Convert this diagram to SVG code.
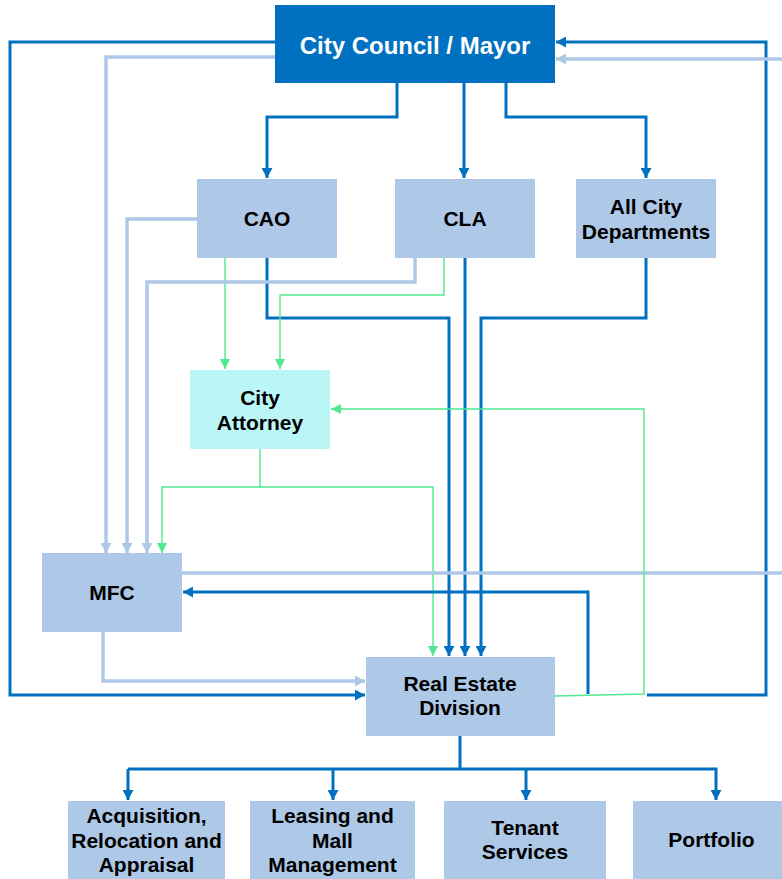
<svg xmlns="http://www.w3.org/2000/svg" width="782" height="879" viewBox="0 0 782 879">
  <style>
    .box { fill: #AEC8E7; }
    .top { fill: #0070C0; }
    .atty { fill: #BBF6F6; }
    .lbl { font-family: "Liberation Sans", Arial, sans-serif; font-weight: bold; font-size: 21px; fill: #000; text-anchor: middle; }
    .big { font-size: 24px; fill: #fff; }
    .dark { fill: none; stroke: #0070C0; stroke-width: 3; }
    .light { fill: none; stroke: #AEC8E7; stroke-width: 3.5; }
    .green { fill: none; stroke: #50E890; stroke-width: 1.4; }
  </style>
  <defs>
    <marker id="aDark" markerUnits="userSpaceOnUse" markerWidth="11" markerHeight="11" refX="10" refY="5.5" orient="auto">
      <path d="M0,0 L10,5.5 L0,11 z" fill="#0070C0"/>
    </marker>
    <marker id="aLight" markerUnits="userSpaceOnUse" markerWidth="11" markerHeight="11" refX="10" refY="5.5" orient="auto">
      <path d="M0,0 L10,5.5 L0,11 z" fill="#AEC8E7"/>
    </marker>
    <marker id="aGreen" markerUnits="userSpaceOnUse" markerWidth="11" markerHeight="11" refX="10" refY="5" orient="auto">
      <path d="M0,0 L10,5 L0,10 z" fill="#50E890"/>
    </marker>
  </defs>

  <g id="connectors">
    <!-- City Council / Mayor outgoing -->
    <path class="dark" d="M275,42 H10 V695 H365" marker-end="url(#aDark)"/>
    <path class="light" d="M275,57 H106 V553" marker-end="url(#aLight)"/>
    <path class="dark" d="M397,83 V117 H267 V178" marker-end="url(#aDark)"/>
    <path class="dark" d="M464,83 V178" marker-end="url(#aDark)"/>
    <path class="dark" d="M506,83 V117 H646 V178" marker-end="url(#aDark)"/>
    <!-- returns to City Council / Mayor -->
    <path class="dark" d="M647,695 H766 V42 H556" marker-end="url(#aDark)"/>
    <path class="light" d="M782,59 H556" marker-end="url(#aLight)"/>
    <!-- CAO -->
    <path class="light" d="M197,219 H127 V553" marker-end="url(#aLight)"/>
    <path class="green" d="M225,258 V369" marker-end="url(#aGreen)"/>
    <path class="dark" d="M267,258 V318 H449 V656" marker-end="url(#aDark)"/>
    <!-- CLA -->
    <path class="light" d="M415,258 V282 H147 V553" marker-end="url(#aLight)"/>
    <path class="green" d="M444,258 V295 H280 V369" marker-end="url(#aGreen)"/>
    <path class="dark" d="M465,258 V656" marker-end="url(#aDark)"/>
    <!-- All City Departments -->
    <path class="dark" d="M646,258 V318 H481 V656" marker-end="url(#aDark)"/>
    <!-- City Attorney -->
    <path class="green" d="M260,449 V487 H162 V553" marker-end="url(#aGreen)"/>
    <path class="green" d="M260,487 H433 V656" marker-end="url(#aGreen)"/>
    <!-- MFC -->
    <path class="light" d="M182,573 H782"/>
    <path class="light" d="M103,632 V681 H365" marker-end="url(#aLight)"/>
    <!-- Real Estate Division -->
    <path class="green" d="M555,696 L644,694 V409 H331" marker-end="url(#aGreen)"/>
    <path class="dark" d="M588,694 V592 H183" marker-end="url(#aDark)"/>
    <path class="dark" d="M460,736 V769"/>
    <path class="dark" d="M128,769 H716 V800" marker-end="url(#aDark)"/>
    <path class="dark" d="M128,769 V800" marker-end="url(#aDark)"/>
    <path class="dark" d="M333,769 V800" marker-end="url(#aDark)"/>
    <path class="dark" d="M526,769 V800" marker-end="url(#aDark)"/>
  </g>

  <g id="council">
    <rect class="top" x="275" y="5" width="280" height="78"/>
    <text class="lbl big" x="415" y="54">City Council / Mayor</text>
  </g>
  <g id="cao">
    <rect class="box" x="197" y="179" width="140" height="79"/>
    <text class="lbl" x="267" y="226">CAO</text>
  </g>
  <g id="cla">
    <rect class="box" x="395" y="179" width="140" height="79"/>
    <text class="lbl" x="465" y="226">CLA</text>
  </g>
  <g id="departments">
    <rect class="box" x="576" y="179" width="140" height="79"/>
    <text class="lbl" x="646" y="214">All City</text>
    <text class="lbl" x="646" y="239">Departments</text>
  </g>
  <g id="attorney">
    <rect class="atty" x="190" y="370" width="140" height="79"/>
    <text class="lbl" x="260" y="405">City</text>
    <text class="lbl" x="260" y="430">Attorney</text>
  </g>
  <g id="mfc">
    <rect class="box" x="42" y="553" width="140" height="79"/>
    <text class="lbl" x="112" y="600">MFC</text>
  </g>
  <g id="real-estate">
    <rect class="box" x="366" y="657" width="189" height="79"/>
    <text class="lbl" x="460" y="691">Real Estate</text>
    <text class="lbl" x="460" y="715">Division</text>
  </g>
  <g id="acquisition">
    <rect class="box" x="68" y="801" width="157" height="90"/>
    <text class="lbl" x="146.5" y="823">Acquisition,</text>
    <text class="lbl" x="146.5" y="848">Relocation and</text>
    <text class="lbl" x="146.5" y="872">Appraisal</text>
  </g>
  <g id="leasing">
    <rect class="box" x="250" y="801" width="165" height="90"/>
    <text class="lbl" x="332.5" y="823">Leasing and</text>
    <text class="lbl" x="332.5" y="848">Mall</text>
    <text class="lbl" x="332.5" y="872">Management</text>
  </g>
  <g id="tenant">
    <rect class="box" x="444" y="801" width="162" height="90"/>
    <text class="lbl" x="525" y="835">Tenant</text>
    <text class="lbl" x="525" y="859">Services</text>
  </g>
  <g id="portfolio">
    <rect class="box" x="633" y="801" width="157" height="90"/>
    <text class="lbl" x="711.5" y="847">Portfolio</text>
  </g>
</svg>
